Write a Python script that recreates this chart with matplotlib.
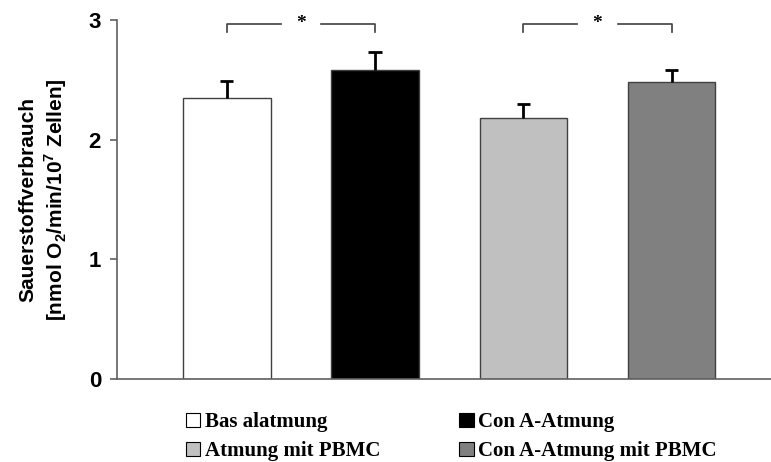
import numpy as np
import matplotlib.pyplot as plt
from matplotlib.patches import Patch

plt.rcParams['mathtext.fontset'] = 'custom'
plt.rcParams['mathtext.rm'] = 'Liberation Sans:bold'
plt.rcParams['mathtext.bf'] = 'Liberation Sans:bold'

labels = ['Bas alatmung', 'Con A-Atmung', 'Atmung mit PBMC', 'Con A-Atmung mit PBMC']
values = [2.35, 2.58, 2.18, 2.48]
errors = [0.14, 0.155, 0.12, 0.10]
colors = ['white', 'black', '#c0c0c0', '#808080']
sig_pairs = [(0, 1), (2, 3)]
sig_y = 2.97

fig = plt.figure(figsize=(7.71, 4.62), dpi=100)
ax = fig.add_axes([0.1518, 0.1797, 0.8482, 0.777])

x = np.arange(len(values))
v = np.array(values)
e = np.array(errors)
ax.bar(x, v, width=0.59, color=colors, edgecolor='#404040', linewidth=1.0, zorder=2)
# upper error bars only
ax.vlines(x, v, v + e, color='black', lw=2, zorder=3)
ax.hlines(v + e, x - 0.045, x + 0.045, color='black', lw=2, zorder=3)

ax.set_xlim(-0.74, 3.67)
ax.set_ylim(0, 3)
ax.set_yticks([0, 1, 2, 3])
ax.set_xticks([])
for s in ['top', 'right']:
    ax.spines[s].set_visible(False)
for s in ['left', 'bottom']:
    ax.spines[s].set_color('#606060')
    ax.spines[s].set_linewidth(1.2)
ax.tick_params(axis='y', direction='out', length=5, color='#606060', width=1.2, pad=6.5)
for t in ax.get_yticklabels():
    t.set_fontfamily('Liberation Sans')
    t.set_fontweight('bold')
    t.set_fontsize(16)

ax.set_ylabel('Sauerstoffverbrauch\n[nmol O$_\\mathbf{2}$/min/10$^\\mathbf{7}$ Zellen]',
              fontfamily='Liberation Sans', fontweight='bold', fontsize=15,
              linespacing=1.25, labelpad=14)

# significance brackets
for a, b in sig_pairs:
    mid = (a + b) / 2
    gap = 0.135
    ax.plot([a, a, mid - gap], [sig_y - 0.07, sig_y, sig_y], color='#404040', lw=1.2, clip_on=False)
    ax.plot([mid + gap, b, b], [sig_y, sig_y, sig_y - 0.07], color='#404040', lw=1.2, clip_on=False)
    ax.text(mid, sig_y, '*', ha='center', va='center', fontsize=14, fontweight='bold',
            fontfamily='Liberation Serif')

order = [0, 2, 1, 3]
handles = [Patch(facecolor=colors[i], edgecolor='black', linewidth=0.8, label=labels[i]) for i in order]
fig.legend(handles=handles, loc='upper left', bbox_to_anchor=(0.241, 0.108), ncol=2,
           frameon=False, prop={'family': 'Liberation Serif', 'weight': 'bold', 'size': 15},
           handlelength=0.7, handleheight=0.7, handletextpad=0.2,
           columnspacing=3.8, labelspacing=0.45, borderaxespad=0, borderpad=0)

fig.savefig('out.png', dpi=100)
